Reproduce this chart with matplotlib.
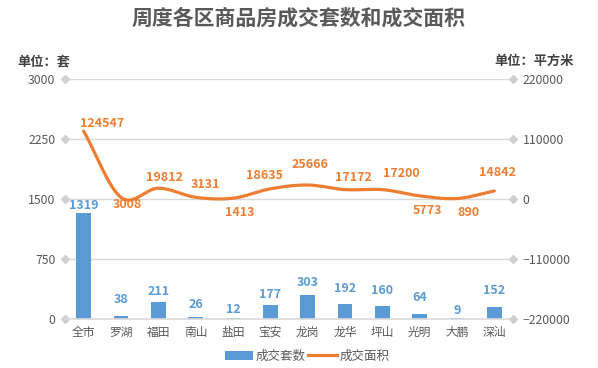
import matplotlib
matplotlib.use("Agg")
import matplotlib.pyplot as plt
import numpy as np
from matplotlib.lines import Line2D
from matplotlib.patches import Patch

plt.rcParams['font.family'] = ['Noto Sans CJK SC', 'DejaVu Sans']

categories = ['全市', '罗湖', '福田', '南山', '盐田', '宝安', '龙岗', '龙华', '坪山', '光明', '大鹏', '深汕']
units = [1319, 38, 211, 26, 12, 177, 303, 192, 160, 64, 9, 152]
areas = [124547, 3008, 19812, 3131, 1413, 18635, 25666, 17172, 17200, 5773, 890, 14842]
left_ticks = [0, 750, 1500, 2250, 3000]
right_ticks = [-220000, -110000, 0, 110000, 220000]

# label placement offsets (pixels)
bar_label_dy = [8, 16, 11, 12, 9, 10, 12, 15, 16, 16, 8, 16]
line_label_off = [(18, 8), (6, -7), (6, 11), (10, 13), (7, -14), (-6, 13), (2, 21),
                  (8, 12), (19, 16), (8, -15), (11, -14), (3, 18)]

BLUE = '#5B9BD5'
ORANGE = '#ED7D31'
TXT = '#595959'

fig = plt.figure(figsize=(5.98, 3.68), dpi=100)
ax = fig.add_axes([65/598, 1-319/368, 448/598, 240/368])
ax2 = ax.twinx()

x = np.arange(len(categories))
ax.bar(x, units, width=0.4, color=BLUE, zorder=3)
ax.set_xlim(-0.5, len(categories)-0.5)
ax.set_ylim(0, 3000)
ax.set_yticks(left_ticks)
ax2.set_ylim(-220000, 220000)
ax2.set_yticks(right_ticks)

for a in (ax, ax2):
    for s in a.spines.values():
        s.set_visible(False)
ax.spines['bottom'].set_visible(True)
ax.spines['bottom'].set_color('#D9D9D9')
ax.spines['bottom'].set_linewidth(1.2)
ax.spines['bottom'].set_zorder(4)

for t in left_ticks[1:]:
    ax.axhline(t, color='#D9D9D9', lw=1, zorder=1)
ax.plot([-0.5]*len(left_ticks), left_ticks, 'D', color='#D0D0D0', ms=4, clip_on=False, zorder=2)
ax2.plot([len(categories)-0.5]*len(right_ticks), right_ticks, 'D', color='#D0D0D0', ms=4, clip_on=False, zorder=2)

ax.tick_params(axis='y', length=0, pad=7, labelsize=8.8, labelcolor=TXT)
ax2.tick_params(axis='y', length=0, pad=7, labelsize=8.8, labelcolor=TXT)
ax.set_xticks(x)
ax.set_xticklabels(categories)
ax.tick_params(axis='x', length=0, pad=5, labelsize=8.5, labelcolor=TXT)

def catmull(xs, ys, n=30):
    px = np.concatenate([[2*xs[0]-xs[1]], xs, [2*xs[-1]-xs[-2]]])
    py = np.concatenate([[2*ys[0]-ys[1]], ys, [2*ys[-1]-ys[-2]]])
    ox, oy = [], []
    for i in range(1, len(px)-2):
        t = np.linspace(0, 1, n)
        p0, p1, p2, p3 = py[i-1], py[i], py[i+1], py[i+2]
        q0, q1, q2, q3 = px[i-1], px[i], px[i+1], px[i+2]
        fy = 0.5*((2*p1) + (-p0+p2)*t + (2*p0-5*p1+4*p2-p3)*t**2 + (-p0+3*p1-3*p2+p3)*t**3)
        fx = 0.5*((2*q1) + (-q0+q2)*t + (2*q0-5*q1+4*q2-q3)*t**2 + (-q0+3*q1-3*q2+q3)*t**3)
        ox.extend(fx); oy.extend(fy)
    return np.array(ox), np.array(oy)

sx, sy = catmull(x.astype(float), np.array(areas, dtype=float))
ax2.plot(sx, sy, color=ORANGE, lw=2.3, zorder=5, solid_capstyle='round')

for xi, v, dy in zip(x, units, bar_label_dy):
    ax.annotate(str(v), (xi, v), xytext=(0, dy), textcoords='offset pixels',
                ha='center', va='center', color=BLUE, fontsize=9, fontweight='bold', zorder=6)

for xi, v, (dx, dy) in zip(x, areas, line_label_off):
    ax2.annotate(str(v), (xi, v), xytext=(dx, dy), textcoords='offset pixels',
                 ha='center', va='center', color=ORANGE, fontsize=9, fontweight='bold', zorder=6)

ax.set_zorder(ax2.get_zorder()-1)
ax.patch.set_visible(True)
ax2.patch.set_visible(False)

fig.text(0.5, 1-18/368, '周度各区商品房成交套数和成交面积', ha='center', va='center',
         fontsize=15, fontweight='bold', color=TXT)
fig.text(17/598, 1-61/368, '单位：套', ha='left', va='center', fontsize=9.5, fontweight='bold', color='#404040')
fig.text(574/598, 1-61/368, '单位：平方米', ha='right', va='center', fontsize=9.5, fontweight='bold', color='#404040')

handles = [Patch(facecolor=BLUE, label='成交套数'), Line2D([0], [0], color=ORANGE, lw=2.3, label='成交面积')]
fig.legend(handles=handles, loc='center', bbox_to_anchor=(307/598, 1-356/368), ncol=2, frameon=False,
           fontsize=9, labelcolor=TXT, handlelength=2.3, columnspacing=0.2, handletextpad=0.2)

fig.savefig('out.png', dpi=100)
